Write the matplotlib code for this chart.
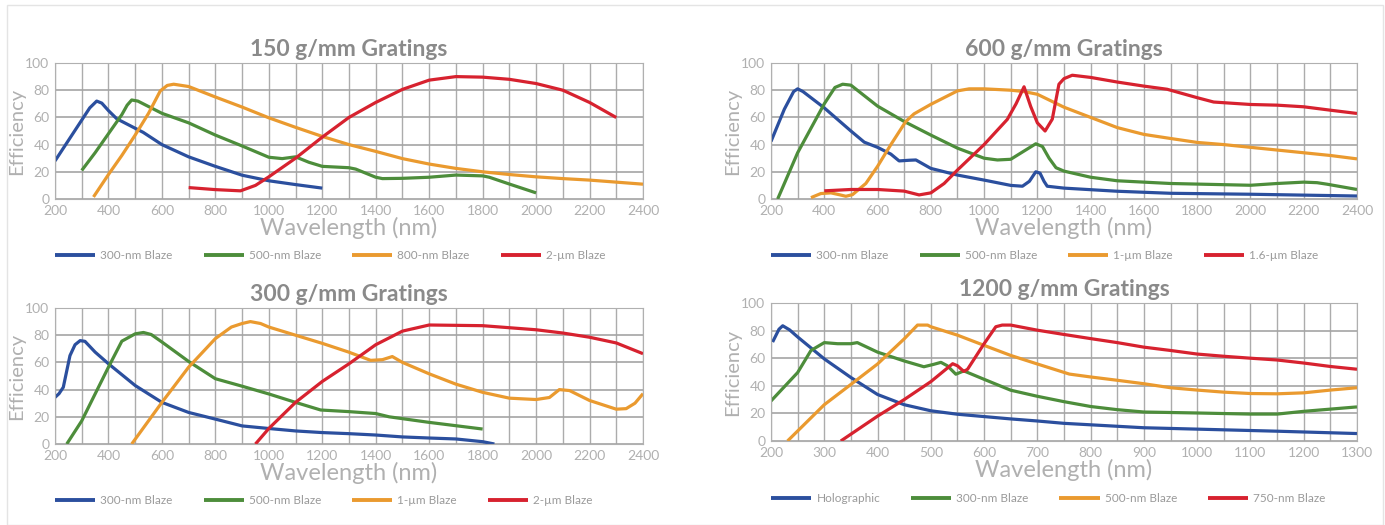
import matplotlib

matplotlib.use("Agg")
import matplotlib.pyplot as plt
from matplotlib.patches import Rectangle

plt.rcParams["font.family"] = ["Lato", "DejaVu Sans"]

BLUE = "#2b4f9e"
GREEN = "#4d8d3b"
ORANGE = "#ea9a2f"
RED = "#d7222f"
GRAY_TXT = "#b0b0b0"

# --- 150 g/mm ---
g150_300_x = [200, 250, 300, 330, 356, 375, 400, 431, 500, 530, 600, 700, 800, 900, 1000, 1100, 1200]
g150_300_y = [28, 43, 58, 67, 72, 70.5, 65, 59, 52, 49, 40, 31, 24, 17.5, 13.4, 10.6, 8]
g150_500_x = [300, 350, 400, 450, 470, 487, 510, 600, 700, 800, 900, 1000, 1050, 1100, 1150, 1200, 1300,
              1325, 1400, 1425, 1500, 1600, 1700, 1800, 1825, 1900, 2000]
g150_500_y = [21, 34, 48, 62, 69, 72.8, 72, 63, 56, 47, 39, 30.7, 29.7, 31, 27, 24, 23,
              22, 16, 15, 15.2, 16, 17.6, 17, 16, 11, 4.5]
g150_800_x = [344, 400, 450, 500, 550, 594, 620, 644, 700, 800, 900, 1000, 1100, 1200, 1300, 1400, 1500,
              1600, 1700, 1800, 1900, 2000, 2100, 2200, 2300, 2400]
g150_800_y = [1.5, 18, 32, 47, 63, 79.5, 83.5, 84.4, 82.7, 75, 67.6, 59.7, 52.7, 46, 40, 35, 29.7,
              25.7, 22.5, 20, 18, 16.3, 15, 13.9, 12.4, 10.9]
g150_2um_x = [700, 800, 894, 950, 1000, 1100, 1200, 1300, 1400, 1500, 1600, 1700, 1800, 1900, 2000, 2100,
              2200, 2300]
g150_2um_y = [8.4, 6.9, 6, 10, 16.3, 30, 45.5, 60, 71, 80.6, 87.4, 90, 89.6, 88, 84.9, 80, 71, 59.9]

# --- 600 g/mm ---
g600_300_x = [200, 250, 285, 300, 320, 400, 500, 550, 600, 650, 681, 720, 744, 800, 900, 1000, 1100,
              1144, 1170, 1194, 1210, 1225, 1237, 1300, 1500, 1700, 2000, 2400]
g600_300_y = [42.3, 66, 79, 81, 79, 67, 50, 41.8, 38, 33, 28, 28.5, 28.7, 22.5, 17.6, 13.9, 10,
              9.4, 13, 20, 19, 13, 9.4, 8, 5.7, 4.2, 3.5, 2.2]
g600_500_x = [225, 300, 400, 440, 469, 500, 600, 700, 800, 900, 1000, 1050, 1100, 1156, 1194, 1219,
              1244, 1270, 1300, 1400, 1500, 1700, 2000, 2100, 2200, 2250, 2287, 2400]
g600_500_y = [0, 34, 70, 82, 84.4, 83.7, 68.3, 57, 47, 37.4, 30, 28.7, 29.2, 36, 40.6, 38.6,
              30, 23, 20.5, 16, 13.4, 11.4, 10.1, 11.4, 12.4, 12, 10.9, 7]
g600_1um_x = [350, 387, 425, 460, 481, 506, 556, 600, 650, 706, 737, 800, 900, 944, 1000, 1100, 1150,
              1200, 1300, 1400, 1500, 1600, 1700, 1800, 1900, 2000, 2100, 2200, 2300, 2400]
g600_1um_y = [1, 4, 4.5, 3, 2, 3.2, 11.4, 24, 40, 57, 62.6, 69.6, 79.5, 81, 81, 80, 79,
              77, 67.5, 60, 52.5, 47.5, 44.5, 41.6, 40, 38, 36, 34, 32, 29.5]
g600_16um_x = [400, 500, 600, 700, 756, 800, 850, 900, 1000, 1087, 1120, 1150, 1175, 1200, 1229, 1256,
               1281, 1300, 1331, 1400, 1500, 1600, 1687, 1800, 1862, 2000, 2100, 2200, 2300, 2400]
g600_16um_y = [6, 7, 7, 5.8, 3, 4.5, 11.4, 21.3, 40, 58.5, 70, 82.5, 68, 56, 50, 58.7,
               84.4, 88.5, 91, 89.4, 86, 83, 80.7, 74.5, 71.3, 69.5, 69, 67.8, 65.3, 62.9]

# --- 300 g/mm ---
g300_300_x = [200, 215, 231, 256, 275, 294, 312, 350, 400, 500, 600, 700, 800, 900, 1000, 1100, 1200,
              1300, 1400, 1500, 1600, 1700, 1800, 1844]
g300_300_y = [34.3, 37, 41.7, 65, 73, 76, 75.5, 67.6, 59, 43, 30.6, 23.2, 18.3, 13.3, 11.4, 9.6, 8.4,
              7.6, 6.6, 5.2, 4.4, 3.7, 1.7, 0]
g300_500_x = [244, 300, 400, 450, 500, 531, 560, 600, 700, 800, 900, 1000, 1100, 1194, 1300, 1400, 1450,
              1600, 1800]
g300_500_y = [0, 17, 56.5, 75.6, 81, 82, 80.5, 75, 60.7, 48, 42.5, 36.8, 30.6, 25, 23.8, 22.4, 20,
              15.9, 11]
g300_1um_x = [487, 600, 700, 800, 860, 900, 931, 969, 1000, 1100, 1200, 1300, 1381, 1425, 1462, 1500,
              1600, 1700, 1800, 1900, 2000, 2050, 2087, 2125, 2200, 2300, 2337, 2370, 2400]
g300_1um_y = [0, 30.6, 56.5, 77.5, 86, 88.6, 90, 88.6, 86, 80, 74, 67.5, 61.5, 62, 64.3, 60,
              51.6, 44, 38, 33.7, 32.7, 34.2, 40, 39.3, 32, 25.6, 26, 30, 37]
g300_2um_x = [950, 1000, 1100, 1200, 1300, 1400, 1500, 1600, 1800, 2000, 2100, 2200, 2300, 2400]
g300_2um_y = [0, 11.4, 30.6, 46, 59, 73, 83, 87.5, 87, 84, 81.6, 78.5, 74.3, 66.4]

# --- 1200 g/mm ---
g1200_holo_x = [203, 215, 222, 235, 250, 300, 350, 400, 450, 500, 550, 600, 650, 700, 750, 900, 1000,
                1150, 1300]
g1200_holo_y = [71.7, 81, 83.5, 80.5, 75.4, 59.5, 46, 33.7, 26.3, 21.9, 19.4, 17.7, 16, 14.5, 12.8,
                9.6, 8.6, 7.1, 5.4]
g1200_300_x = [200, 250, 275, 300, 325, 350, 362, 400, 450, 487, 505, 519, 531, 547, 562, 600, 650,
               700, 750, 800, 850, 900, 1000, 1100, 1150, 1200, 1300]
g1200_300_y = [29, 49.6, 65.6, 71.3, 70.5, 70.5, 71.3, 64.4, 58, 53.8, 55.5, 57, 54.5, 48.4, 50.8,
               44.7, 36.8, 32.4, 28.5, 25, 22.7, 21, 20.3, 19.5, 19.5, 21.5, 24.7]
g1200_500_x = [231, 300, 350, 400, 450, 475, 494, 500, 550, 600, 650, 700, 760, 800, 850, 900, 950,
               1000, 1050, 1100, 1150, 1200, 1250, 1300]
g1200_500_y = [0, 26.3, 41, 55.8, 74, 84, 84, 82.8, 76.7, 69.3, 62, 55.8, 48.5, 46.4, 44, 41.5,
               38.6, 36.9, 35.4, 34.4, 34.2, 34.9, 36.9, 38.6]
g1200_750_x = [331, 400, 450, 500, 541, 550, 562, 569, 600, 622, 634, 650, 700, 750, 800, 850, 900,
               950, 1000, 1050, 1100, 1150, 1200, 1250, 1300]
g1200_750_y = [0, 18, 30, 43, 56, 54.5, 50.4, 52, 70.5, 82.8, 84, 84, 80.3, 77.2, 74.2, 71.3, 68,
               65.6, 63, 61.4, 60, 58.7, 56.5, 54, 52]

panels = [
    ("150 g/mm Gratings", [55, 199, 643, 63], (200, 2400, 200, 100),
     [(g150_300_x, g150_300_y, BLUE, "300-nm Blaze"),
      (g150_500_x, g150_500_y, GREEN, "500-nm Blaze"),
      (g150_800_x, g150_800_y, ORANGE, "800-nm Blaze"),
      (g150_2um_x, g150_2um_y, RED, "2-µm Blaze")]),
    ("600 g/mm Gratings", [771, 199, 1357, 63], (200, 2400, 200, 100),
     [(g600_300_x, g600_300_y, BLUE, "300-nm Blaze"),
      (g600_500_x, g600_500_y, GREEN, "500-nm Blaze"),
      (g600_1um_x, g600_1um_y, ORANGE, "1-µm Blaze"),
      (g600_16um_x, g600_16um_y, RED, "1.6-µm Blaze")]),
    ("300 g/mm Gratings", [55, 444, 643, 308], (200, 2400, 200, 100),
     [(g300_300_x, g300_300_y, BLUE, "300-nm Blaze"),
      (g300_500_x, g300_500_y, GREEN, "500-nm Blaze"),
      (g300_1um_x, g300_1um_y, ORANGE, "1-µm Blaze"),
      (g300_2um_x, g300_2um_y, RED, "2-µm Blaze")]),
    ("1200 g/mm Gratings", [771, 441, 1357, 303], (200, 1300, 100, 50),
     [(g1200_holo_x, g1200_holo_y, BLUE, "Holographic"),
      (g1200_300_x, g1200_300_y, GREEN, "300-nm Blaze"),
      (g1200_500_x, g1200_500_y, ORANGE, "500-nm Blaze"),
      (g1200_750_x, g1200_750_y, RED, "750-nm Blaze")]),
]

W, H = 1385, 525
fig = plt.figure(figsize=(W / 100, H / 100), dpi=100)
fig.patches.append(Rectangle((7 / W, 0), 1376 / W, 520 / H, transform=fig.transFigure,
                             fill=False, edgecolor="#e4e4e4", lw=1))

for title, (x0, y0, x1, y1), (xmin, xmax, major, minor), series in panels:
    ax = fig.add_axes([x0 / W, 1 - y0 / H, (x1 - x0) / W, (y0 - y1) / H])
    for xs, ys, col, lab in series:
        ax.plot(xs, ys, color=col, lw=2.3, label=lab, solid_joinstyle="round",
                solid_capstyle="butt")
    ax.set_xlim(xmin, xmax)
    ax.set_ylim(0, 100)
    ax.set_xticks(range(xmin, xmax + 1, major))
    ax.set_xticks(range(xmin, xmax + 1, minor), minor=True)
    ax.set_yticks(range(0, 101, 20))
    ax.grid(True, which="both", axis="x", color="#acacac", lw=1)
    ax.grid(True, which="major", axis="y", color="#a4a4a4", lw=1.2)
    ax.set_axisbelow(True)
    for sp in ax.spines.values():
        sp.set_color("#b0b0b0")
    ax.tick_params(which="both", length=0, colors=GRAY_TXT, labelsize=10)
    ax.tick_params(axis="x", pad=4)
    ax.tick_params(axis="y", pad=4)
    ax.set_title(title, fontsize=16.5, fontweight="bold", color="#8a8a8a", pad=5)
    ax.set_xlabel("Wavelength (nm)", fontsize=17, color=GRAY_TXT, labelpad=0)
    ax.set_ylabel("Efficiency", fontsize=14.5, color=GRAY_TXT, labelpad=0)
    leg = ax.legend(loc="center left", bbox_to_anchor=(0.0, -0.415), ncol=4, frameon=False,
                    fontsize=8.5, handlelength=3.4, handletextpad=0.45, columnspacing=2.6,
                    borderaxespad=0, borderpad=0)
    for t in leg.get_texts():
        t.set_color("#9a9a9a")
    for ln in leg.get_lines():
        ln.set_linewidth(2.8)

fig.savefig("out.png", dpi=100)
